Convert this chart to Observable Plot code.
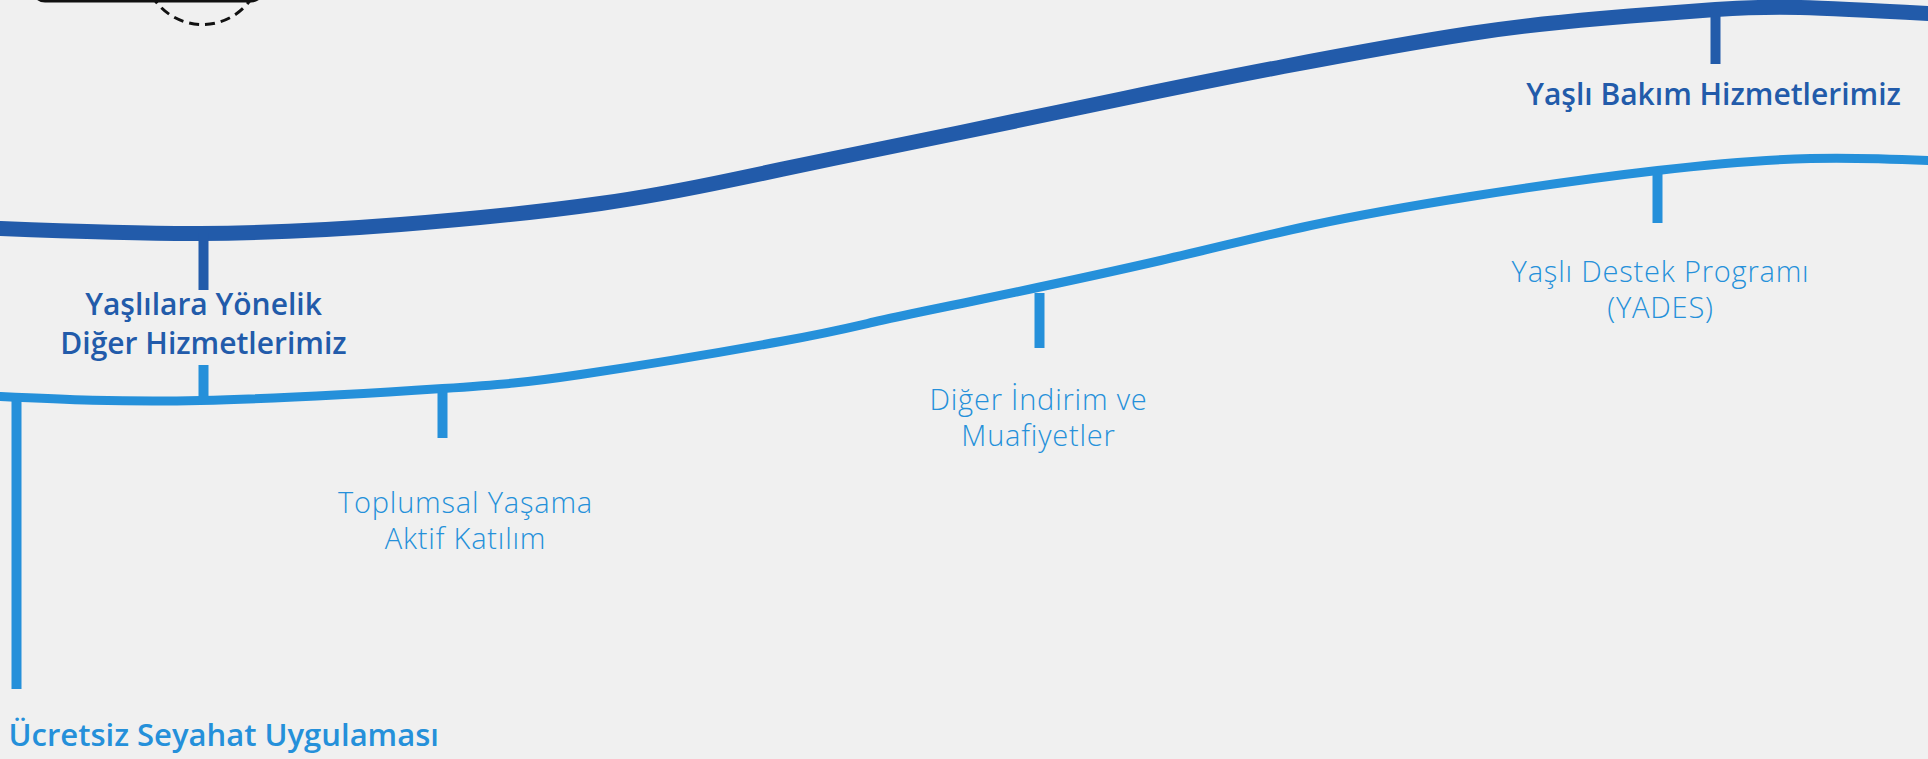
<!DOCTYPE html>
<html>
<head>
<meta charset="utf-8">
<script src="https://cdn.jsdelivr.net/npm/d3@7"></script>
<script src="https://cdn.jsdelivr.net/npm/@observablehq/plot@0.6"></script>
<style>
  html, body { margin: 0; padding: 0; background: #f0f0f0; }
  #chart svg { display: block; }
</style>
</head>
<body>
<div id="chart"></div>
<script>
// Upper (dark) wave: x, y in picture units
const darkWaveX = [0, 200, 400, 600, 733, 833, 960, 1123, 1283, 1470, 1600, 1715, 1800, 1928];
const darkWaveY = [228, 233, 224, 203, 179, 158, 132, 98, 66, 33, 18, 9, 7, 13];

// Lower (light) wave
const lightWaveX = [0, 200, 442, 580, 780, 880, 980, 1160, 1310, 1470, 1657, 1810, 1928];
const lightWaveY = [396, 400, 388, 374, 341, 320, 299, 260, 225, 196, 170, 158, 160];

// Stems (connectors) : x, start, end
const darkStemX = [203, 1715];
const darkStemFrom = [233, 8];
const darkStemTo = [290, 64];

const lightStemX = [16, 203, 442, 1039, 1657];
const lightStemFrom = [396, 365, 388, 293, 170];
const lightStemTo = [689, 400, 438, 348, 223];

// Labels
const boldLabels = ["Yaşlılara Yönelik\nDiğer Hizmetlerimiz", "Yaşlı Bakım Hizmetlerimiz"];
const boldLabelX = [203, 1713];
const boldLabelY = [353, 104];

const firstLabel = ["Ücretsiz Seyahat Uygulaması"];
const firstLabelX = [8];
const firstLabelY = [745];

const lightLabels = ["Toplumsal Yaşama\nAktif Katılım", "Diğer İndirim ve\nMuafiyetler", "Yaşlı Destek Programı\n(YADES)"];
const lightLabelX = [465, 1038, 1660];
const lightLabelY = [548, 445, 317];

// Decoration at top-left (cut-off bubble)
const bubbleBox = [{x1: 33, x2: 263, y1: -80, y2: 1}];
const bubbleArc = [{x: 202, y: -35}];

const darkBlue = "#225BAA";
const lightBlue = "#2590DA";
const bg = "#f0f0f0";

const darkWave = darkWaveX.map((x, i) => ({x, y: darkWaveY[i]}));
const lightWave = lightWaveX.map((x, i) => ({x, y: lightWaveY[i]}));
const darkStems = darkStemX.map((x, i) => ({x, y1: darkStemFrom[i], y2: darkStemTo[i]}));
const lightStems = lightStemX.map((x, i) => ({x, y1: lightStemFrom[i], y2: lightStemTo[i]}));
const bold = boldLabels.map((t, i) => ({t, x: boldLabelX[i], y: boldLabelY[i]}));
const first = firstLabel.map((t, i) => ({t, x: firstLabelX[i], y: firstLabelY[i]}));
const light = lightLabels.map((t, i) => ({t, x: lightLabelX[i], y: lightLabelY[i]}));

const chart = Plot.plot({
  width: 1928,
  height: 759,
  margin: 0,
  style: {background: bg, fontFamily: "'Open Sans', 'Noto Sans', sans-serif"},
  x: {domain: [0, 1928], range: [0, 1928], axis: null},
  y: {domain: [0, 759], range: [0, 759], axis: null},
  marks: [
    Plot.dot(bubbleArc, {x: "x", y: "y", r: 59, stroke: "#111", strokeWidth: 3, strokeDasharray: "10,6", fill: "none"}),
    Plot.rect(bubbleBox, {x1: "x1", x2: "x2", y1: "y1", y2: "y2", rx: 12, stroke: "#111", strokeWidth: 3, fill: bg}),
    Plot.line(darkWave, {x: "x", y: "y", stroke: darkBlue, strokeWidth: 15, curve: "natural"}),
    Plot.line(lightWave, {x: "x", y: "y", stroke: lightBlue, strokeWidth: 9, curve: "natural"}),
    Plot.ruleX(darkStems, {x: "x", y1: "y1", y2: "y2", stroke: darkBlue, strokeWidth: 10, strokeLinecap: "butt"}),
    Plot.ruleX(lightStems, {x: "x", y1: "y1", y2: "y2", stroke: lightBlue, strokeWidth: 10, strokeLinecap: "butt"}),
    Plot.text(bold, {x: "x", y: "y", text: "t", fill: darkBlue, fontSize: 30, fontWeight: 600, lineAnchor: "bottom", lineHeight: 1.27, textAnchor: "middle"}),
    Plot.text(first, {x: "x", y: "y", text: "t", fill: lightBlue, fontSize: 31, fontWeight: 600, lineAnchor: "bottom", textAnchor: "start"}),
    Plot.text(light, {x: "x", y: "y", text: "t", fill: lightBlue, fontSize: 29, fontWeight: 300, lineAnchor: "bottom", lineHeight: 1.24, textAnchor: "middle"})
  ]
});
// slightly wider tracking on the light labels, like the reference typeface
d3.select(chart).selectAll("text").filter(function() {
  return this.closest("g") && this.closest("g").getAttribute("font-weight") === "300";
}).attr("letter-spacing", "0.8");
d3.select(chart).selectAll("g[font-weight='300']").attr("letter-spacing", "0.8");
document.getElementById("chart").appendChild(chart);
</script>
</body>
</html>
